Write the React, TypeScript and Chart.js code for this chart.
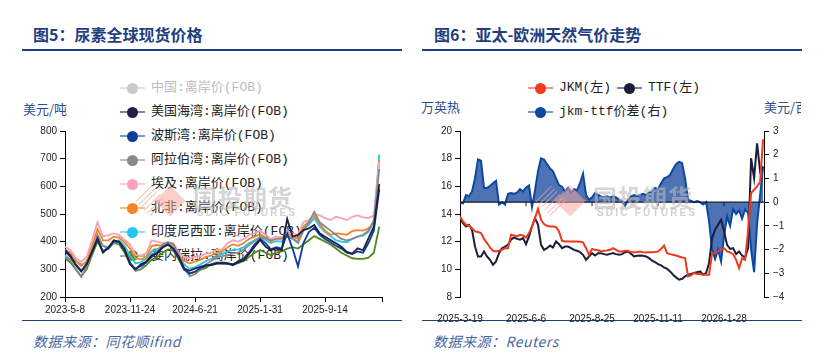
import React, { useEffect, useRef } from 'react';
import { Chart, registerables } from 'chart.js';

Chart.register(...registerables);

// ---------------- Figure 5: urea global spot prices (USD/t) ----------------
const ureaTickLabels = ['2023-5-8', '2023-11-24', '2024-6-21', '2025-1-31', '2025-9-14'];
const ureaTickIndex = [0, 12, 24, 36, 48];
const ureaAxisEnd = 58.5;

const usGulf = [
  370, 350, 315, 292, 318, 365, 412, 360, 378, 405,
  400, 372, 318, 300, 318, 327, 350, 357, 380, 388,
  376, 345, 303, 295, 303, 309, 315, 315, 321, 321,
  321, 315, 327, 333, 357, 382, 406, 382, 369, 376,
  369, 482, 418, 424, 442, 448, 460, 430, 418, 406,
  394, 382, 363, 357, 376, 369, 412, 454, 608,
];
const persianGulf = [
  365, 345, 318, 295, 320, 362, 408, 365, 375, 402,
  398, 368, 322, 302, 312, 325, 345, 360, 378, 392,
  372, 340, 300, 285, 292, 305, 312, 318, 322, 325,
  322, 318, 330, 340, 362, 390, 410, 395, 372, 380,
  375, 430, 375, 310, 395, 435, 450, 425, 410, 398,
  385, 375, 360, 355, 365, 360, 395, 440, 590,
];
const arabianGulf = [
  345, 335, 300, 272, 310, 360, 425, 385, 375, 395,
  398, 378, 325, 295, 300, 330, 355, 365, 390, 398,
  392, 352, 305, 275, 282, 300, 318, 330, 345, 348,
  352, 358, 360, 372, 388, 402, 418, 412, 405, 410,
  412, 418, 410, 395, 440, 470, 508, 470, 455, 440,
  425, 410, 405, 410, 418, 425, 440, 478, 662,
];
const egypt = [
  382, 370, 340, 327, 345, 406, 470, 418, 424, 430,
  424, 406, 390, 352, 350, 358, 405, 400, 395, 398,
  395, 360, 345, 340, 345, 348, 357, 360, 370, 372,
  395, 405, 400, 410, 425, 430, 440, 425, 410, 420,
  415, 440, 430, 425, 470, 478, 500, 495, 485, 478,
  490, 485, 478, 490, 495, 488, 485, 495, 690,
];
const northAfrica = [
  372, 360, 330, 312, 330, 385, 445, 405, 405, 418,
  415, 398, 375, 340, 335, 345, 385, 388, 385, 390,
  385, 352, 330, 322, 328, 335, 345, 350, 360, 365,
  380, 390, 385, 395, 410, 418, 428, 415, 400, 412,
  410, 430, 420, 410, 455, 472, 495, 465, 440, 425,
  430, 428, 425, 438, 442, 440, 448, 470, 695,
];
const indonesia = [
  350, 335, 330, 318, 322, 370, 420, 385, 380, 400,
  405, 385, 350, 322, 325, 340, 365, 372, 385, 392,
  388, 350, 318, 302, 308, 318, 330, 338, 350, 355,
  365, 370, 372, 380, 395, 405, 415, 405, 395, 402,
  400, 420, 412, 400, 445, 462, 485, 455, 435, 420,
  405, 400, 398, 410, 418, 422, 435, 470, 715,
];
const venezuela = [
  340, 325, 300, 275, 300, 352, 400, 365, 380, 395,
  390, 360, 320, 295, 300, 315, 335, 345, 360, 372,
  368, 335, 298, 285, 290, 298, 305, 318, 325, 322,
  320, 318, 322, 330, 345, 360, 370, 360, 352, 360,
  365, 375, 380, 375, 390, 405, 420, 410, 400, 390,
  375, 360, 350, 340, 338, 338, 342, 360, 455,
];

const ureaLegend = [
  { label: '中国:离岸价(FOB)', color: '#C9C9C9', hidden: true, data: [] as number[] },
  { label: '美国海湾:离岸价(FOB)', color: '#1E2045', hidden: false, data: usGulf },
  { label: '波斯湾:离岸价(FOB)', color: '#0C3F94', hidden: false, data: persianGulf },
  { label: '阿拉伯湾:离岸价(FOB)', color: '#8A8A8A', hidden: false, data: arabianGulf },
  { label: '埃及:离岸价(FOB)', color: '#F5A3B8', hidden: false, data: egypt },
  { label: '北非:离岸价(FOB)', color: '#F58523', hidden: false, data: northAfrica },
  { label: '印度尼西亚:离岸价(FOB)', color: '#26C4EE', hidden: false, data: indonesia },
  { label: '委内瑞拉:离岸价(FOB)', color: '#4E8A1C', hidden: false, data: venezuela },
];

// ---------------- Figure 6: JKM / TTF (USD/MMBtu) ----------------
const gasTickLabels = ['2025-3-19', '2025-6-6', '2025-8-25', '2025-11-11', '2026-1-28'];
const gasTickIndex = [0, 22, 44, 66, 88];
const gasAxisEnd = 101.3;

const jkm = [
  13.82, 13.46, 13.22, 13.15, 12.98, 12.74, 12.7, 12.62, 12.2, 11.9,
  11.58, 11.34, 11.29, 11.34, 11.41, 11.53, 11.53, 12.5, 12.45, 12.38,
  12.5, 12.45, 12.3, 12.62, 13.1, 13.7, 14.38, 13.58, 13.27, 13.15,
  13.1, 13.1, 13.05, 12.74, 12.06, 12.02, 12.02, 12.02, 12.02, 12.02,
  12.0, 11.95, 11.53, 11.05, 11.48, 11.41, 11.38,
  11.29, 11.34, 11.36, 11.41, 11.53, 11.41, 11.29, 11.29, 11.34, 11.34,
  11.24, 11.24, 11.26, 11.29, 11.24, 11.22, 11.24, 11.24, 11.26, 11.29,
  11.48, 11.72, 11.17, 11.1, 11.05, 11.0, 10.93, 10.86, 10.81, 9.49,
  9.56, 9.73, 9.66, 9.66, 9.61, 9.61, 9.61, 11.17, 11.17, 11.29,
  11.41, 11.53, 11.29, 11.22, 11.1, 10.69, 10.09, 10.81, 10.69, 12.8,
  15.51, 15.75, 16.0, 16.3, 19.4,
];
const ttf = [
  13.7, 13.34, 13.1, 13.22, 12.86, 11.65, 10.93, 10.93, 11.29, 10.93,
  10.69, 10.33, 10.57, 11.17, 11.53, 11.65, 11.77, 12.14, 12.3, 12.2,
  12.14, 12.26, 11.82, 12.38, 13.1, 13.7, 13.22, 11.77, 11.41, 11.53,
  11.72, 11.58, 12.02, 11.82, 11.53, 11.65, 11.65, 11.53, 11.41, 11.34,
  11.24, 11.05, 10.69, 10.93, 11.17, 11.0, 11.17,
  11.17, 11.1, 11.05, 11.12, 11.17, 11.1, 11.05, 11.1, 11.24, 11.29,
  11.12, 10.93, 10.98, 11.0, 10.98, 10.93, 10.81, 10.62, 10.52, 10.38,
  10.28, 10.14, 10.04, 9.85, 9.61, 9.42, 9.25, 9.32, 9.49, 9.61,
  9.66, 9.73, 9.8, 9.85, 9.61, 9.73, 10.45, 12.26, 12.86, 13.22,
  13.58, 12.74, 11.77, 11.48, 11.53, 11.1, 11.29, 11.0, 10.86, 11.53,
  18.03, 16.59, 19.1, 17.07, 17.43,
];
const spread = [
  -0.03, -0.05, 0.3, 0.25, 0.45, 1.0, 1.8, 1.75, 0.6, 0.6,
  0.68, 0.8, 0.9, -0.1, 0.0, -0.1, 0.35, 0.38, 0.35, 0.4,
  0.55, 0.45, 0.62, 0.7, -0.2, 0.5, 1.3, 1.85, 1.8, 1.6,
  1.42, 1.3, 1.0, 0.72, 0.65, 0.45, 0.6, 0.4, 0.55, 0.5,
  0.8, 1.2, 0.3, 0.1, 0.2, 0.38, 0.3,
  0.24, 0.2, 0.25, 0.2, 0.25, 0.2, 0.1, 0.05, -0.15, 0.1,
  0.25, 0.3, 0.25, 0.3, 0.35, 0.3, 0.4, 0.45, 0.6, 0.55,
  0.8, 1.0, 1.05, 1.15, 1.4, 1.6, 1.7, 1.65, 1.0, 0.1,
  0.05, 0.0, 0.05, 0.0, -0.1, 0.0, -0.8, -2.0, -2.4, -2.0,
  -2.5, -1.4, -0.6, -1.0, -0.3, -0.5, -0.35, -0.7, -0.3, -0.45,
  -2.0, -2.95, -0.9, 0.3, 1.5,
];

const gasLegend = [
  { label: 'JKM(左)', color: '#EF3A1D' },
  { label: 'TTF(左)', color: '#1C1D3A' },
  { label: 'jkm-ttf价差(右)', color: '#0B48A0' },
];

// ---------------- helpers ----------------
const TITLE_BLUE = '#1F3F7F';
const AXIS_FONT = { family: '"Liberation Sans", Arial, sans-serif', size: 10 };
const CJK = '"Noto Sans CJK SC", "Noto Sans", sans-serif';
const LEGEND_FONT = '"Liberation Mono", "Noto Sans CJK SC", monospace';

const toPoints = (arr: number[]) => arr.map((v, i) => ({ x: i, y: v }));
const fixedTicks = (positions: number[]) => (scale: any) => {
  scale.ticks = positions.map((v) => ({ value: v }));
};
const minus = (v: number) => (v < 0 ? '\u2212' + Math.abs(v) : String(v));

function ureaConfig(): any {
  return {
    type: 'line',
    data: {
      datasets: ureaLegend
        .filter((s) => !s.hidden)
        .map((s) => ({
          label: s.label,
          data: toPoints(s.data),
          borderColor: s.color,
          backgroundColor: s.color,
          borderWidth: 1.8,
          pointRadius: 0,
          tension: 0,
          fill: false,
        })),
    },
    options: {
      responsive: false,
      animation: false,
      devicePixelRatio: 1,
      layout: { padding: { left: 0, right: 18, top: 11, bottom: 0 } },
      plugins: { legend: { display: false }, tooltip: { enabled: false } },
      scales: {
        x: {
          type: 'linear',
          min: 0,
          max: ureaAxisEnd,
          afterBuildTicks: fixedTicks([...ureaTickIndex, ureaAxisEnd]),
          afterFit: (s: any) => { s.height = 33; },
          grid: { display: true, drawOnChartArea: false, drawTicks: true, tickLength: 5, color: '#000', tickColor: '#000' },
          border: { display: true, color: '#000', width: 1 },
          ticks: {
            autoSkip: false,
            maxRotation: 0,
            padding: 2,
            color: '#222',
            font: AXIS_FONT,
            callback: (v: number) => {
              const k = ureaTickIndex.indexOf(v);
              return k >= 0 ? ureaTickLabels[k] : '';
            },
          },
        },
        y: {
          min: 200,
          max: 800,
          afterFit: (s: any) => { s.width = 45; },
          grid: { display: true, drawOnChartArea: false, drawTicks: true, tickLength: 5, color: '#000', tickColor: '#000' },
          border: { display: true, color: '#000', width: 1 },
          ticks: { stepSize: 100, padding: 3, color: '#222', font: AXIS_FONT },
        },
      },
    },
  };
}

const zeroLinePlugin = {
  id: 'zeroLine',
  afterDatasetDraw(chart: any, args: any) {
    if (args.index !== 2) return;
    const { ctx, chartArea, scales } = chart;
    const y0 = scales.y1.getPixelForValue(0);
    ctx.save();
    ctx.strokeStyle = '#1A1A2A';
    ctx.lineWidth = 1.4;
    ctx.beginPath();
    ctx.moveTo(chartArea.left, y0);
    ctx.lineTo(chartArea.right, y0);
    ctx.stroke();
    ctx.lineWidth = 1;
    scales.x.ticks.forEach((t: any) => {
      if (t.value > 0 && t.value < gasAxisEnd) {
        const x = scales.x.getPixelForValue(t.value);
        ctx.beginPath();
        ctx.moveTo(x, y0);
        ctx.lineTo(x, y0 + 4);
        ctx.stroke();
      }
    });
    ctx.restore();
  },
};

function gasConfig(): any {
  const yCommon = {
    grid: { display: true, drawOnChartArea: false, drawTicks: true, tickLength: 5, color: '#000', tickColor: '#000' },
    border: { display: true, color: '#000', width: 1 },
  };
  return {
    type: 'line',
    data: {
      datasets: [
        {
          label: gasLegend[0].label, data: toPoints(jkm), yAxisID: 'y', order: 0,
          borderColor: gasLegend[0].color, borderWidth: 2, pointRadius: 0, tension: 0, fill: false,
        },
        {
          label: gasLegend[1].label, data: toPoints(ttf), yAxisID: 'y', order: 1,
          borderColor: gasLegend[1].color, borderWidth: 2, pointRadius: 0, tension: 0, fill: false,
        },
        {
          label: gasLegend[2].label, data: toPoints(spread), yAxisID: 'y1', order: 10,
          borderColor: gasLegend[2].color, backgroundColor: '#4D73B5', borderWidth: 2,
          pointRadius: 0, tension: 0, fill: 'origin',
        },
      ],
    },
    options: {
      responsive: false,
      animation: false,
      devicePixelRatio: 1,
      layout: { padding: { left: 0, right: 0, top: 11, bottom: 0 } },
      plugins: { legend: { display: false }, tooltip: { enabled: false } },
      scales: {
        x: {
          type: 'linear',
          min: 0,
          max: gasAxisEnd,
          afterBuildTicks: fixedTicks([...gasTickIndex, gasAxisEnd]),
          afterFit: (s: any) => { s.height = 33; },
          grid: { display: false },
          border: { display: false },
          ticks: {
            autoSkip: false,
            maxRotation: 0,
            padding: 8,
            color: '#222',
            font: AXIS_FONT,
            callback: (v: number) => {
              const k = gasTickIndex.indexOf(v);
              return k >= 0 ? gasTickLabels[k] : '';
            },
          },
        },
        y: {
          position: 'left',
          min: 8,
          max: 20,
          afterFit: (s: any) => { s.width = 50; },
          ...yCommon,
          ticks: { stepSize: 2, padding: 3, color: '#222', font: AXIS_FONT },
        },
        y1: {
          position: 'right',
          min: -4,
          max: 3,
          afterFit: (s: any) => { s.width = 56; },
          ...yCommon,
          ticks: { stepSize: 1, padding: 4, color: '#222', font: AXIS_FONT, callback: (v: number) => minus(v) },
        },
      },
    },
    plugins: [zeroLinePlugin],
  };
}

// ---------------- small HTML pieces ----------------
const abs = (s: React.CSSProperties): React.CSSProperties => ({ position: 'absolute', ...s });

function LegendItem({ x, y, color, label, faded, markerWidth = 25 }: any) {
  return (
    <div style={abs({ left: x, top: y - 10, height: 20, display: 'flex', alignItems: 'center', whiteSpace: 'nowrap' })}>
      <div style={{ position: 'relative', width: markerWidth, height: 20 }}>
        <div style={abs({ left: 0, top: 9, width: markerWidth, height: 2, background: color, opacity: 0.55 })} />
        <div style={abs({ left: markerWidth / 2 - 5.5, top: 4.5, width: 11, height: 11, borderRadius: '50%', background: color })} />
      </div>
      <span style={{ marginLeft: 6, fontFamily: LEGEND_FONT, fontSize: 13, color: faded ? '#BDBDBD' : '#222', lineHeight: '20px' }}>
        {label}
      </span>
    </div>
  );
}

function Watermark({ dx }: { dx: number }) {
  return (
    <>
      <div style={abs({ left: 540 + dx, top: 190, width: 22, height: 22, transform: 'rotate(45deg)', opacity: 0.5,
        background: 'repeating-linear-gradient(90deg, #F2A79C 0px, #F2A79C 1.5px, transparent 1.5px, transparent 4px)' })} />
      <div style={abs({ left: 559 + dx, top: 190, width: 22, height: 22, transform: 'rotate(45deg)', background: '#F2A79C', opacity: 0.55 })} />
      <div style={abs({ left: 593 + dx, top: 184, fontFamily: CJK, fontWeight: 700, fontSize: 24, lineHeight: '26px',
        color: 'rgba(185,185,185,0.6)', letterSpacing: 1 })}>国投期货</div>
      <div style={abs({ left: 597 + dx, top: 207, fontFamily: '"Liberation Sans", Arial, sans-serif', fontWeight: 700, fontSize: 10,
        lineHeight: '11px', letterSpacing: 2.2, color: 'rgba(185,185,185,0.65)' })}>SDIC FUTURES</div>
    </>
  );
}

export default function App() {
  const leftRef = useRef<HTMLCanvasElement>(null);
  const rightRef = useRef<HTMLCanvasElement>(null);

  useEffect(() => {
    const c1 = new Chart(leftRef.current as HTMLCanvasElement, ureaConfig());
    const c2 = new Chart(rightRef.current as HTMLCanvasElement, gasConfig());
    return () => {
      c1.destroy();
      c2.destroy();
    };
  }, []);

  const titleStyle = (left: number): React.CSSProperties =>
    abs({ left, top: 23, fontFamily: CJK, fontWeight: 700, fontSize: 16, lineHeight: '22px', color: TITLE_BLUE, whiteSpace: 'nowrap' });
  const sourceStyle = (left: number): React.CSSProperties =>
    abs({ left, top: 331, fontFamily: CJK, fontStyle: 'italic', fontSize: 14, lineHeight: '20px', color: '#4A67A3', whiteSpace: 'nowrap', letterSpacing: 0.5 });
  const unitStyle: React.CSSProperties = { fontFamily: CJK, fontSize: 13, lineHeight: '18px', color: '#2E4D8F', whiteSpace: 'nowrap' };

  return (
    <div style={abs({ left: 0, top: 0, width: 833, height: 358, background: '#fff', overflow: 'hidden' })}>
      {/* titles and rules */}
      <div style={titleStyle(33)}>图5：尿素全球现货价格</div>
      <div style={titleStyle(434)}>图6：亚太-欧洲天然气价走势</div>
      <div style={abs({ left: 22, top: 49, width: 380, height: 2, background: TITLE_BLUE })} />
      <div style={abs({ left: 422, top: 49, width: 380, height: 2, background: TITLE_BLUE })} />
      <div style={abs({ left: 22, top: 319.5, width: 380, height: 1.5, background: TITLE_BLUE })} />
      <div style={abs({ left: 422, top: 319.5, width: 380, height: 1.5, background: TITLE_BLUE })} />
      <div style={sourceStyle(33)}>数据来源：同花顺ifind</div>
      <div style={sourceStyle(433)}>数据来源：Reuters</div>

      {/* units */}
      <div style={abs({ left: 23, top: 100, ...unitStyle })}>美元/吨</div>
      <div style={abs({ left: 421, top: 98, width: 39, height: 20, overflow: 'hidden' })}>
        <div style={abs({ right: 0, top: 0, ...unitStyle })}>美元/百万英热</div>
      </div>
      <div style={abs({ left: 764, top: 98, width: 37, height: 20, overflow: 'hidden' })}>
        <div style={abs({ left: 0, top: 0, ...unitStyle })}>美元/百万英热</div>
      </div>

      {/* left legend sits beneath the plotted lines */}
      {ureaLegend.map((s, i) => (
        <LegendItem key={s.label} x={120} y={88.3 + i * 23.95} color={s.color} label={s.label} faded={s.hidden} />
      ))}

      {/* right legend */}
      <LegendItem x={528} y={88.3} color={gasLegend[0].color} label={gasLegend[0].label} />
      <LegendItem x={617} y={88.3} color={gasLegend[1].color} label={gasLegend[1].label} />
      <LegendItem x={528} y={112} color={gasLegend[2].color} label={gasLegend[2].label} />

      <canvas ref={leftRef} width={380} height={210} style={abs({ left: 20, top: 120, width: 380, height: 210 })} />
      <canvas ref={rightRef} width={410} height={210} style={abs({ left: 410, top: 120, width: 410, height: 210 })} />

      <div style={abs({ left: 0, top: 0, width: 833, height: 358, pointerEvents: 'none' })}>
        <Watermark dx={-400} />
        <Watermark dx={0} />
      </div>
    </div>
  );
}
